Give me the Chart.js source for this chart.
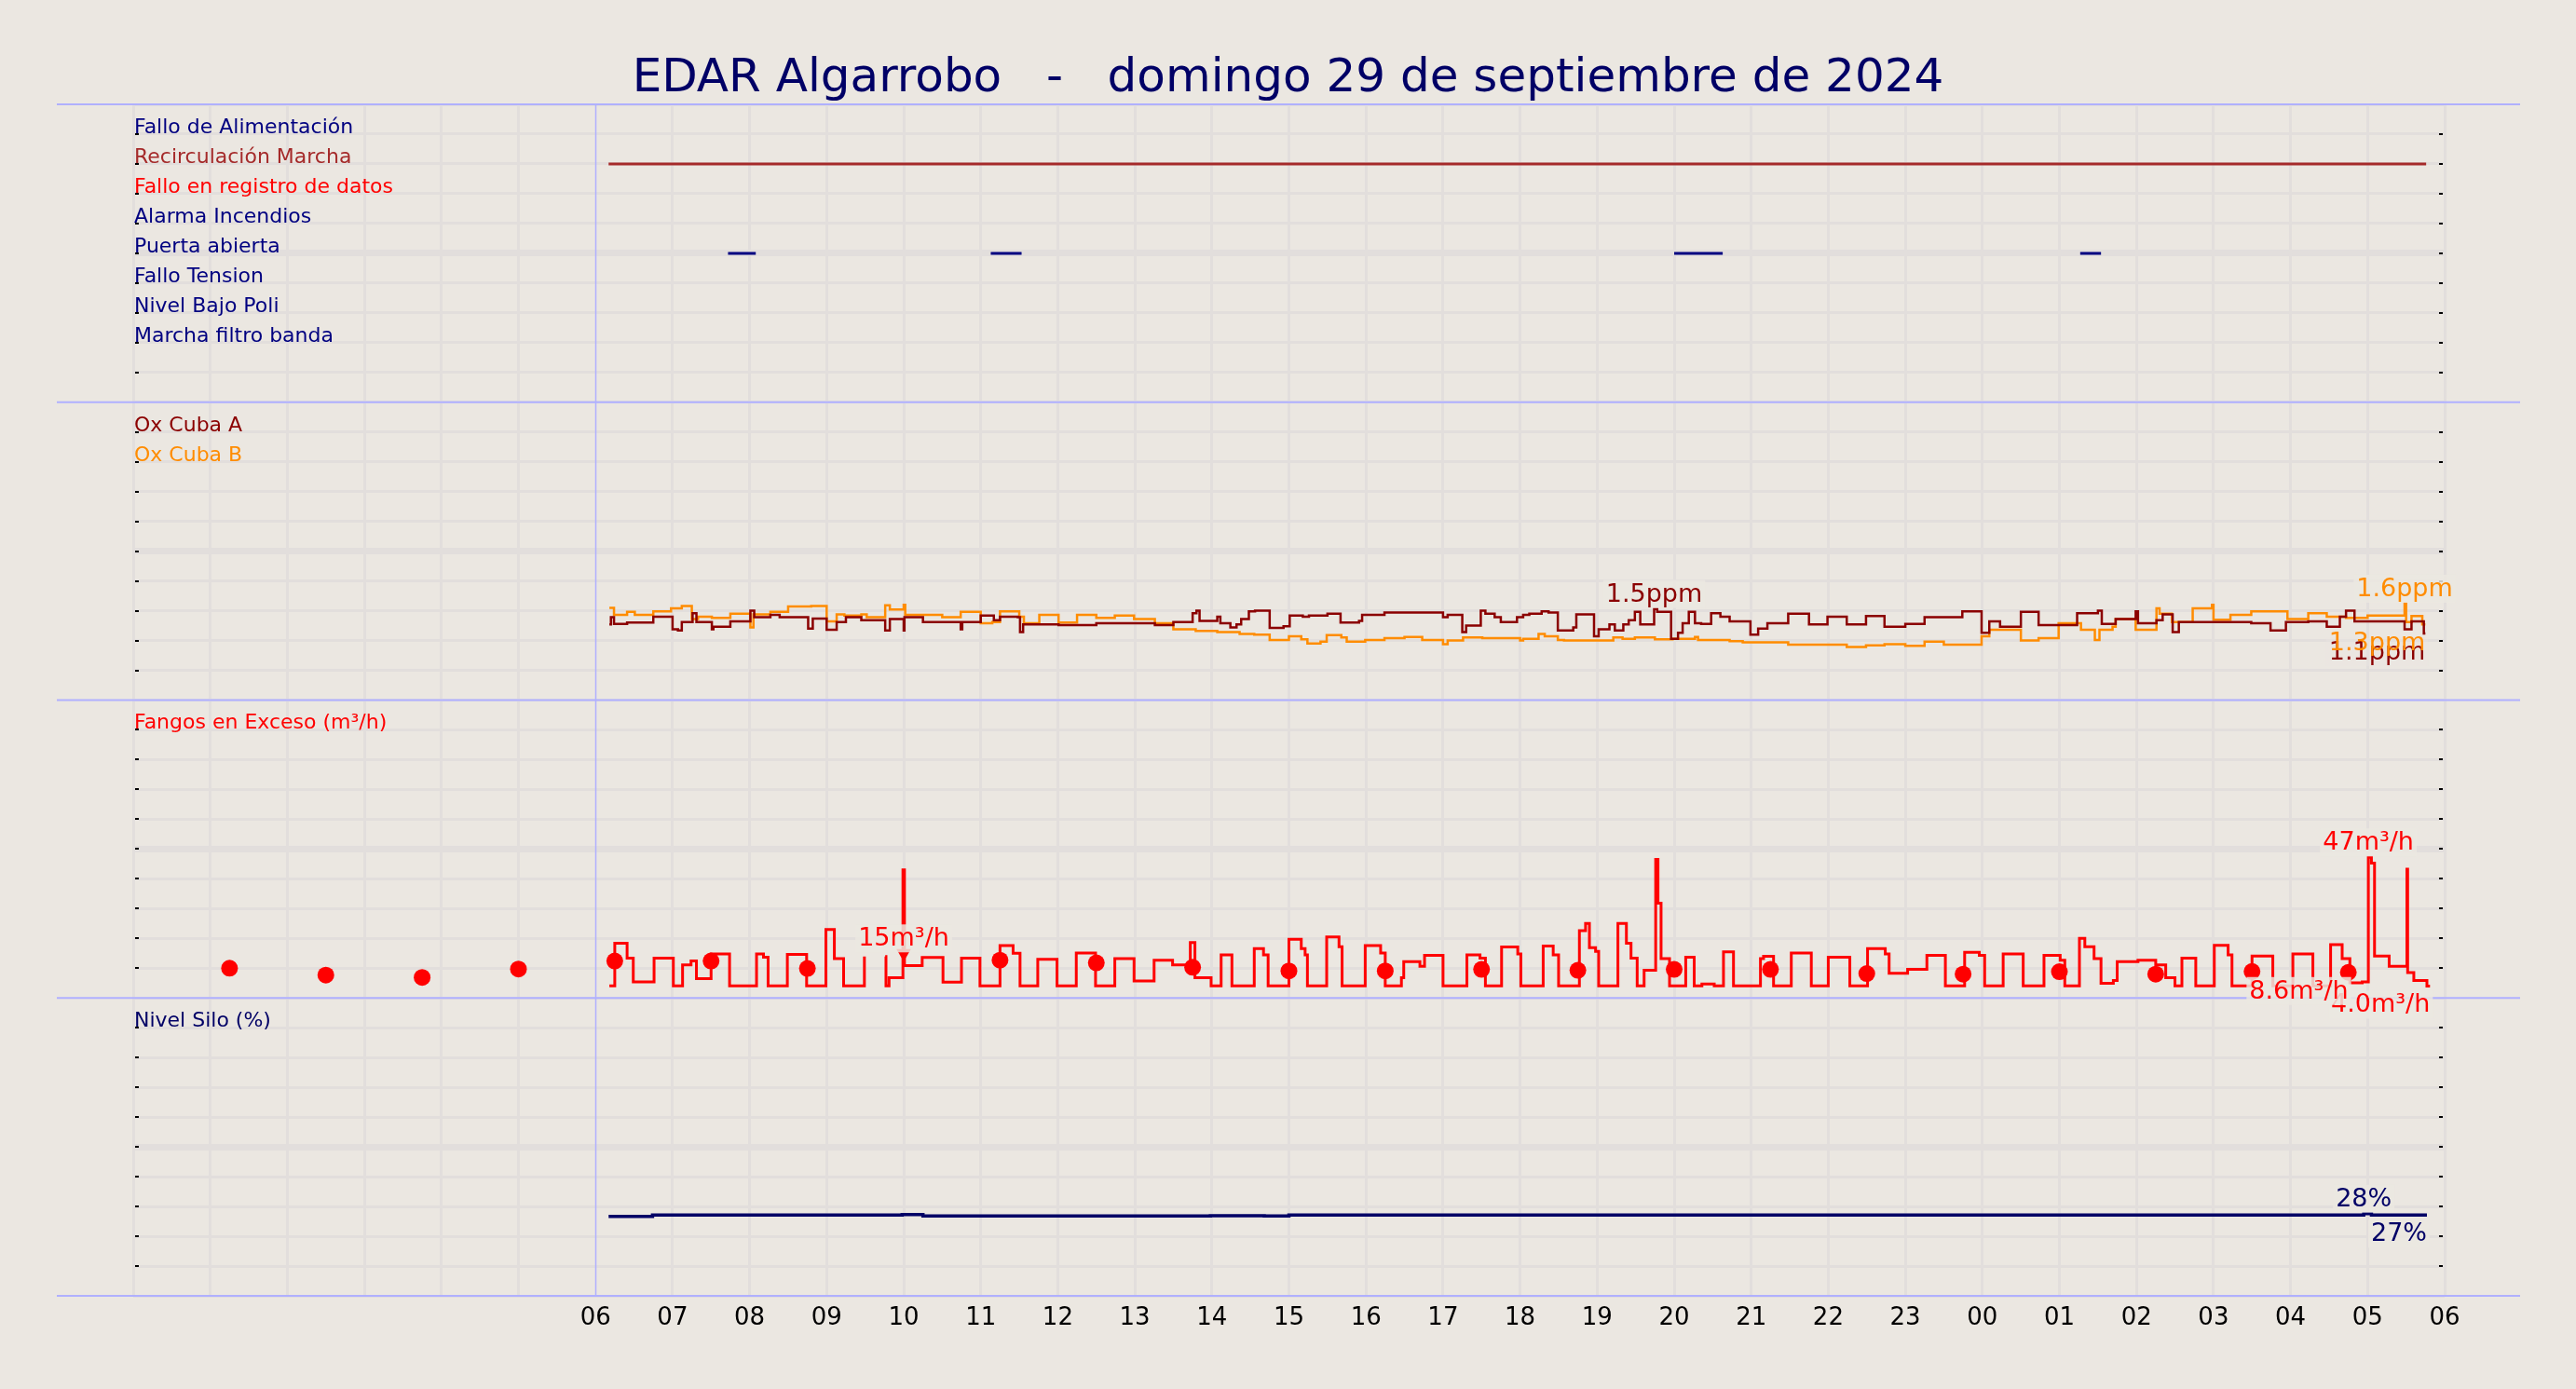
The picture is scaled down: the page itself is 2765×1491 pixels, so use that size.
<!DOCTYPE html>
<html>
<head>
<meta charset="utf-8">
<title>EDAR Algarrobo</title>
<script src="https://cdn.jsdelivr.net/npm/chart.js@4.4.1/dist/chart.umd.min.js"></script>
<style>
  html, body { margin: 0; padding: 0; background: #ebe7e1; }
  #wrap { width: 2765px; height: 1491px; position: relative; }
</style>
</head>
<body>
<div id="wrap"><canvas id="edarChart"></canvas></div>
<script>
// Cabecera
const titulo = 'EDAR Algarrobo   -   domingo 29 de septiembre de 2024';

// Eje X: horas desde las 00:00 del día 29 (etiquetas de 06 a 06)
const horaInicio = 0;
const horaFin = 30;
const primeraEtiqueta = 6;

// Panel 1: señales digitales, tramos [inicio, fin] en horas
const senales = ['Fallo de Alimentación', 'Recirculación Marcha', 'Fallo en registro de datos', 'Alarma Incendios',
  'Puerta abierta', 'Fallo Tension', 'Nivel Bajo Poli', 'Marcha filtro banda'];
const coloresSenal = ['#000080', '#a52a2a', '#ff0000', '#000080', '#000080', '#000080', '#000080', '#000080'];
const tramosSenal = [
  [],
  [[6.17, 29.76]],
  [],
  [],
  [[7.72, 8.08], [11.13, 11.53], [20.0, 20.63], [25.27, 25.54]],
  [],
  [],
  []
];

// Panel 2: oxígeno (ppm), pares [hora, valor]
const oxCubaA = [
  [6.18, 1.27], [6.20, 1.39], [6.24, 1.28], [6.41, 1.30], [6.75, 1.40], [7.00, 1.19], [7.07, 1.17],
  [7.12, 1.31], [7.26, 1.46], [7.31, 1.31], [7.51, 1.19], [7.53, 1.23], [7.75, 1.32], [8.01, 1.50],
  [8.06, 1.39], [8.27, 1.43], [8.39, 1.39], [8.76, 1.20], [8.82, 1.37], [9.00, 1.18], [9.13, 1.31],
  [9.25, 1.39], [9.45, 1.34], [9.76, 1.17], [9.82, 1.36], [10.00, 1.17], [10.01, 1.39], [10.25, 1.31],
  [10.74, 1.19], [10.76, 1.31], [11.00, 1.42], [11.17, 1.34], [11.25, 1.40], [11.48, 1.39], [11.51, 1.14],
  [11.55, 1.27], [12.01, 1.26], [12.50, 1.29], [13.26, 1.26], [13.50, 1.31], [13.75, 1.46], [13.80, 1.50],
  [13.84, 1.33], [14.07, 1.40], [14.11, 1.29], [14.24, 1.22], [14.32, 1.27], [14.38, 1.36], [14.48, 1.49],
  [14.56, 1.50], [14.75, 1.21], [14.93, 1.24], [15.01, 1.42], [15.18, 1.40], [15.26, 1.42], [15.50, 1.45],
  [15.67, 1.30], [15.91, 1.33], [15.95, 1.43], [16.24, 1.47], [17.00, 1.39], [17.06, 1.43], [17.25, 1.14],
  [17.30, 1.25], [17.49, 1.50], [17.55, 1.45], [17.67, 1.39], [17.75, 1.31], [17.96, 1.39], [18.04, 1.43],
  [18.12, 1.45], [18.28, 1.49], [18.37, 1.47], [18.49, 1.17], [18.69, 1.22], [18.73, 1.44], [18.96, 1.07],
  [19.02, 1.19], [19.16, 1.27], [19.23, 1.17], [19.34, 1.27], [19.41, 1.34], [19.49, 1.48], [19.56, 1.27],
  [19.74, 1.53], [19.78, 1.48], [19.96, 1.03], [20.05, 1.13], [20.11, 1.29], [20.19, 1.48], [20.27, 1.29],
  [20.35, 1.28], [20.48, 1.46], [20.60, 1.40], [20.72, 1.32], [20.99, 1.10], [21.09, 1.20], [21.21, 1.29],
  [21.48, 1.45], [21.75, 1.27], [21.99, 1.40], [22.24, 1.27], [22.49, 1.41], [22.73, 1.23], [23.00, 1.28],
  [23.25, 1.39], [23.74, 1.49], [23.99, 1.13], [24.09, 1.32], [24.23, 1.23], [24.50, 1.48], [24.73, 1.26],
  [25.23, 1.46], [25.50, 1.50], [25.55, 1.28], [25.73, 1.36], [25.99, 1.49], [26.02, 1.29], [26.26, 1.34],
  [26.34, 1.44], [26.47, 1.14], [26.55, 1.31], [27.49, 1.29], [27.74, 1.17], [27.94, 1.31], [28.23, 1.32],
  [28.47, 1.23], [28.64, 1.40], [28.72, 1.50], [28.83, 1.32], [29.48, 1.19], [29.57, 1.32], [29.73, 1.12],
  [29.75, 1.12]
];
const oxCubaB = [
  [6.18, 1.55], [6.24, 1.43], [6.41, 1.48], [6.51, 1.43], [6.75, 1.49], [6.98, 1.54], [7.12, 1.58],
  [7.25, 1.36], [7.33, 1.40], [7.51, 1.38], [7.75, 1.45], [8.01, 1.22], [8.05, 1.44], [8.27, 1.48],
  [8.50, 1.57], [8.80, 1.58], [9.00, 1.32], [9.13, 1.44], [9.23, 1.42], [9.45, 1.44], [9.52, 1.39],
  [9.76, 1.59], [9.82, 1.52], [10.00, 1.60], [10.02, 1.43], [10.50, 1.39], [10.74, 1.48], [11.00, 1.29],
  [11.15, 1.31], [11.25, 1.49], [11.50, 1.40], [11.56, 1.29], [11.76, 1.43], [12.01, 1.30], [12.25, 1.43],
  [12.50, 1.38], [12.74, 1.42], [12.99, 1.36], [13.26, 1.29], [13.50, 1.19], [13.79, 1.16], [14.07, 1.14],
  [14.36, 1.11], [14.55, 1.10], [14.75, 1.01], [15.00, 1.07], [15.16, 1.02], [15.24, 0.95], [15.41, 0.98],
  [15.49, 1.09], [15.68, 1.05], [15.75, 0.98], [15.99, 1.01], [16.24, 1.04], [16.50, 1.06], [16.73, 1.01],
  [17.00, 0.94], [17.06, 1.00], [17.26, 1.05], [17.51, 1.04], [18.00, 1.00], [18.04, 1.03], [18.24, 1.11],
  [18.32, 1.07], [18.49, 1.01], [18.57, 1.00], [19.21, 1.05], [19.33, 1.03], [19.49, 1.05], [19.75, 1.02],
  [19.98, 1.03], [20.27, 1.06], [20.31, 1.01], [20.72, 0.99], [20.89, 0.97], [21.48, 0.93], [22.24, 0.89],
  [22.49, 0.92], [22.73, 0.94], [23.00, 0.91], [23.25, 0.98], [23.50, 0.93], [23.99, 1.07], [24.09, 1.18],
  [24.50, 1.00], [24.73, 1.04], [24.99, 1.29], [25.28, 1.18], [25.46, 1.01], [25.52, 1.18], [25.69, 1.23],
  [25.73, 1.36], [25.99, 1.18], [26.26, 1.54], [26.30, 1.45], [26.46, 1.31], [26.73, 1.54], [26.98, 1.60],
  [27.00, 1.35], [27.22, 1.43], [27.49, 1.49], [27.96, 1.36], [28.23, 1.46], [28.47, 1.40], [28.72, 1.38],
  [29.00, 1.42], [29.48, 1.62], [29.50, 1.31], [29.57, 1.41], [29.71, 1.27], [29.75, 1.27]
];

// Panel 3: fangos en exceso (m³/h), null = hueco sin registro
const fangos = [
  [6.18, 4.1], [6.25, 18.4], [6.41, 13.4], [6.49, 5.4], [6.76, 13.4], [7.01, 4.1], [7.13, 11.1],
  [7.24, 12.4], [7.31, 6.5], [7.50, 14.8], [7.74, 4.1], [8.09, 14.8], [8.18, 13.7], [8.24, 4.1],
  [8.49, 14.6], [8.74, 4.1], [8.99, 23.0], [9.10, 13.2], [9.22, 4.1], [9.49, 13.9], [9.50, null],
  [9.76, 13.9], [9.77, 4.1], [9.81, 6.8], [9.99, 43.0], [10.01, 10.9], [10.24, 13.6], [10.51, 5.3],
  [10.75, 13.4], [10.99, 4.1], [11.25, 17.6], [11.42, 15.0], [11.51, 4.1], [11.74, 13.0], [11.99, 4.1],
  [12.24, 15.1], [12.49, 4.1], [12.74, 13.2], [12.99, 5.7], [13.25, 12.7], [13.49, 11.1], [13.72, 18.6],
  [13.78, 6.8], [13.99, 4.1], [14.12, 14.5], [14.26, 4.1], [14.55, 16.6], [14.67, 14.5], [14.73, 4.1],
  [15.00, 19.7], [15.16, 16.6], [15.21, 14.5], [15.24, 4.1], [15.49, 20.5], [15.65, 17.2], [15.69, 4.1],
  [15.99, 17.6], [16.19, 15.1], [16.25, 4.1], [16.46, 6.8], [16.49, 12.2], [16.70, 10.6], [16.76, 14.3],
  [17.00, 4.1], [17.31, 14.5], [17.48, 13.4], [17.55, 4.1], [17.76, 17.1], [17.97, 14.8], [18.01, 4.1],
  [18.30, 17.4], [18.43, 14.5], [18.50, 4.1], [18.77, 22.6], [18.85, 25.0], [18.90, 16.9], [18.98, 15.6],
  [19.02, 4.1], [19.27, 25.0], [19.38, 18.4], [19.44, 13.4], [19.52, 4.1], [19.61, 9.3], [19.76, 46.5],
  [19.79, 31.8], [19.83, 13.2], [19.94, 4.1], [20.15, 13.7], [20.26, 4.1], [20.36, 4.7], [20.52, 4.1],
  [20.64, 15.5], [20.77, 4.1], [21.12, 13.2], [21.16, 14.0], [21.29, 4.1], [21.52, 15.1], [21.78, 4.1],
  [22.00, 13.7], [22.28, 4.1], [22.51, 16.6], [22.74, 14.8], [22.79, 8.3], [23.03, 9.6], [23.28, 14.3],
  [23.52, 4.1], [23.77, 15.3], [23.96, 14.3], [24.03, 4.1], [24.27, 14.8], [24.53, 4.1], [24.80, 14.3],
  [25.01, 12.7], [25.07, 4.1], [25.26, 20.0], [25.33, 17.2], [25.45, 13.2], [25.54, 4.9], [25.70, 5.9],
  [25.75, 12.2], [26.02, 12.7], [26.25, 11.1], [26.38, 6.8], [26.50, 4.1], [26.59, 13.4], [26.77, 4.1],
  [27.01, 17.7], [27.19, 14.5], [27.24, 4.1], [27.50, 14.1], [27.77, 4.1], [28.03, 14.8], [28.29, 4.1],
  [28.52, 17.9], [28.67, 13.2], [28.77, 5.1], [28.93, 5.4], [29.01, 47.2], [29.05, 45.3], [29.09, 14.1],
  [29.28, 10.6], [29.51, 43.2], [29.52, 8.5], [29.60, 5.9], [29.77, 4.0], [29.81, 4.0]
];
// medias de fangos (puntos)
const horasMedia = [1.25, 2.5, 3.75, 5, 6.25, 7.5, 8.75, 10, 11.25, 12.5, 13.75, 15, 16.25, 17.5,
  18.75, 20, 21.25, 22.5, 23.75, 25, 26.25, 27.5, 28.75];
const fangosMedia = [10.0, 7.7, 6.9, 9.7, 12.4, 12.4, 9.9, 15.0, 12.7, 11.8, 10.3, 9.1, 9.1, 9.6,
  9.3, 9.6, 9.6, 8.2, 8.0, 8.8, 8.0, 8.9, 8.6];

// Panel 4: nivel del silo (%)
const nivelSilo = [
  [6.17, 26.7], [6.74, 27.1], [9.98, 27.3], [10.25, 26.8], [13.98, 26.9], [14.68, 26.8],
  [15.00, 27.1], [28.95, 27.6], [29.05, 27.1], [29.77, 27.1]
];

const fondo = '#ebe7e1';
const rejilla = '#e2dedc';
const azul = '#b0b0ff';
const fuente = '"DejaVu Sans", sans-serif';

function puntos(serie) {
  return serie.map(p => ({ x: p[0], y: p[1] }));
}

function tramos(lista, nivel) {
  const out = [];
  lista.forEach(t => {
    out.push({ x: t[0], y: nivel }, { x: t[1], y: nivel }, { x: t[1], y: null });
  });
  return out;
}

function indiceMax(vals) {
  let k = -1;
  vals.forEach((v, i) => { if (v !== null && (k < 0 || v > vals[k])) k = i; });
  return k;
}

function fmtCaudal(v) {
  return (v >= 10 ? v.toFixed(0) : v.toFixed(1)) + 'm³/h';
}

function escalaPanel(max, paso, peso) {
  return {
    type: 'linear',
    position: 'left',
    stack: 'paneles',
    stackWeight: 1,
    weight: peso,
    min: 0,
    max: max,
    ticks: { stepSize: paso, display: false },
    grid: { color: rejilla, lineWidth: c => c.index === 5 ? 7 : 3, drawTicks: false },
    border: { display: false },
    afterFit: s => { s.width = 0; }
  };
}

const datasets = [];

// puntos de media (primero = encima)
const maxMedia = indiceMax(fangosMedia);
datasets.push({
  label: 'Media fangos',
  data: horasMedia.map((h, i) => ({ x: h, y: fangosMedia[i] })),
  yAxisID: 'yFan',
  showLine: false,
  pointRadius: 9,
  pointStyle: fangosMedia.map((v, i) => i === maxMedia ? 'triangle' : 'circle'),
  rotation: fangosMedia.map((v, i) => i === maxMedia ? 180 : 0),
  pointBackgroundColor: '#ff0000',
  pointBorderWidth: 0
});
datasets.push({ label: 'Fangos en Exceso', data: puntos(fangos), yAxisID: 'yFan', borderColor: '#ff0000', borderWidth: 3, stepped: true, spanGaps: false, pointRadius: 0 });
datasets.push({ label: 'Ox Cuba A', data: puntos(oxCubaA), yAxisID: 'yOx', borderColor: '#8b0000', borderWidth: 2.5, stepped: true, pointRadius: 0 });
datasets.push({ label: 'Ox Cuba B', data: puntos(oxCubaB), yAxisID: 'yOx', borderColor: '#ff8c00', borderWidth: 2.5, stepped: true, pointRadius: 0 });
datasets.push({ label: 'Nivel Silo', data: puntos(nivelSilo), yAxisID: 'ySilo', borderColor: '#000066', borderWidth: 3.5, stepped: true, pointRadius: 0 });
senales.forEach((nombre, i) => {
  if (!tramosSenal[i].length) return;
  datasets.push({ label: nombre, data: tramos(tramosSenal[i], 9 - i), yAxisID: 'ySig', borderColor: coloresSenal[i], borderWidth: 3, spanGaps: false, pointRadius: 0 });
});

function rotulo(c, texto, x, y, color, alinear, arriba, opacidad) {
  c.font = '27px ' + fuente;
  const w = c.measureText(texto).width;
  const base = arriba ? y - 8 : y + 28;
  const izq = alinear === 'center' ? x - w / 2 : x - w;
  const a = opacidad === undefined ? 0.85 : opacidad;
  if (a > 0) {
    c.fillStyle = 'rgba(235, 231, 225, ' + a + ')';
    c.fillRect(izq - 3, base - 23, w + 6, 30);
  }
  c.fillStyle = color;
  c.textAlign = 'left';
  c.textBaseline = 'alphabetic';
  c.fillText(texto, izq, base);
}

function rotulosSerie(c, serie, sx, sy, color, fmt) {
  const vals = serie.map(p => p[1]);
  const k = indiceMax(vals);
  rotulo(c, fmt(vals[k]), sx.getPixelForValue(serie[k][0]), sy.getPixelForValue(vals[k]), color, 'center', true);
}

function rotuloFinal(c, serie, sx, sy, color, fmt, opacidad) {
  const u = serie[serie.length - 1];
  rotulo(c, fmt(u[1]), sx.getPixelForValue(u[0]), sy.getPixelForValue(u[1]), color, 'right', false, opacidad);
}

const decoracion = {
  id: 'decoracion',
  beforeDraw(chart) {
    const c = chart.ctx;
    c.save();
    c.fillStyle = fondo;
    c.fillRect(0, 0, chart.width, chart.height);
    c.restore();
  },
  beforeDatasetsDraw(chart) {
    // linea vertical de inicio del dia
    const c = chart.ctx;
    const area = chart.chartArea;
    const x = Math.round(chart.scales.x.getPixelForValue(primeraEtiqueta)) + 0.5;
    c.save();
    c.strokeStyle = azul;
    c.lineWidth = 1.5;
    c.beginPath();
    c.moveTo(x, area.top);
    c.lineTo(x, area.bottom);
    c.stroke();
    c.restore();
  },
  afterDatasetsDraw(chart) {
    const c = chart.ctx;
    const area = chart.chartArea;
    const sx = chart.scales.x;
    const ySig = chart.scales.ySig, yOx = chart.scales.yOx, yFan = chart.scales.yFan, ySilo = chart.scales.ySilo;
    const paneles = [ySig, yOx, yFan, ySilo];
    c.save();

    // marcas cortas de escala a ambos lados
    c.fillStyle = '#000';
    paneles.forEach(s => {
      s.ticks.forEach((t, i) => {
        if (i === 0 || i === s.ticks.length - 1) return;
        const y = Math.round(s.getPixelForTick(i));
        c.fillRect(area.left + 2, y - 1, 4, 2);
        c.fillRect(area.right - 6, y - 1, 4, 2);
      });
    });

    // separadores de paneles
    c.strokeStyle = azul;
    c.lineWidth = 2;
    paneles.map(s => s.top).concat([ySilo.bottom]).forEach(y => {
      c.beginPath();
      c.moveTo(area.left - 82, y);
      c.lineTo(area.right + 81, y);
      c.stroke();
    });

    // titulo
    c.fillStyle = '#000066';
    c.font = '50px ' + fuente;
    c.textAlign = 'center';
    c.textBaseline = 'alphabetic';
    c.fillText(titulo, chart.width / 2, 98);

    // leyendas de cada panel
    c.font = '22px ' + fuente;
    c.textAlign = 'left';
    senales.forEach((n, i) => {
      c.fillStyle = coloresSenal[i];
      c.fillText(n, area.left + 1, ySig.getPixelForValue(9 - i) - 1);
    });
    c.fillStyle = '#8b0000';
    c.fillText('Ox Cuba A', area.left + 1, yOx.getPixelForValue(4.5) - 1);
    c.fillStyle = '#ff8c00';
    c.fillText('Ox Cuba B', area.left + 1, yOx.getPixelForValue(4.0) - 1);
    c.fillStyle = '#ff0000';
    c.fillText('Fangos en Exceso (m³/h)', area.left + 1, yFan.getPixelForValue(90) - 1);
    c.fillStyle = '#000066';
    c.fillText('Nivel Silo (%)', area.left + 1, ySilo.getPixelForValue(90) - 1);

    // rotulos de maximo y ultimo valor
    const ppm = v => v.toFixed(1) + 'ppm';
    rotulosSerie(c, oxCubaA, sx, yOx, '#8b0000', ppm);
    rotulosSerie(c, oxCubaB, sx, yOx, '#ff8c00', ppm);
    rotuloFinal(c, oxCubaA, sx, yOx, '#8b0000', ppm, 0.4);
    rotuloFinal(c, oxCubaB, sx, yOx, '#ff8c00', ppm, 0);

    const lineaFangos = fangos.filter(p => p[1] !== null);
    rotulosSerie(c, lineaFangos, sx, yFan, '#ff0000', fmtCaudal);
    rotulo(c, fmtCaudal(fangosMedia[maxMedia]), sx.getPixelForValue(horasMedia[maxMedia]),
      yFan.getPixelForValue(fangosMedia[maxMedia]), '#ff0000', 'center', true);
    rotuloFinal(c, lineaFangos, sx, yFan, '#ff0000', fmtCaudal);
    const ult = fangosMedia.length - 1;
    rotulo(c, fmtCaudal(fangosMedia[ult]), sx.getPixelForValue(horasMedia[ult]),
      yFan.getPixelForValue(fangosMedia[ult]), '#ff0000', 'right', false);

    const pct = v => v.toFixed(0) + '%';
    rotulosSerie(c, nivelSilo, sx, ySilo, '#000066', pct);
    rotuloFinal(c, nivelSilo, sx, ySilo, '#000066', pct);

    c.restore();
  }
};

const ctxEdar = document.getElementById('edarChart').getContext('2d');
const edarChart = new Chart(ctxEdar, {
  type: 'line',
  data: { datasets: datasets },
  options: {
    responsive: true,
    maintainAspectRatio: false,
    animation: false,
    devicePixelRatio: 1,
    layout: { padding: { left: 143, right: 141, top: 112, bottom: 0 } },
    plugins: {
      legend: { display: false },
      tooltip: { enabled: false },
      title: { display: false }
    },
    elements: { line: { tension: 0 } },
    scales: {
      x: {
        type: 'linear',
        min: horaInicio,
        max: horaFin,
        ticks: {
          stepSize: 1,
          autoSkip: false,
          maxRotation: 0,
          color: '#000',
          font: { family: 'DejaVu Sans', size: 26 },
          padding: 9,
          callback: v => v >= primeraEtiqueta ? String(v % 24).padStart(2, '0') : ''
        },
        grid: {
          color: c => c.tick && c.tick.value === primeraEtiqueta ? 'rgba(0,0,0,0)' : rejilla,
          lineWidth: 3,
          drawTicks: false
        },
        border: { display: false },
        afterFit: s => { s.height = 100; }
      },
      ySig: escalaPanel(10, 1, 4),
      yOx: escalaPanel(5, 0.5, 3),
      yFan: escalaPanel(100, 10, 2),
      ySilo: escalaPanel(100, 10, 1)
    }
  },
  plugins: [decoracion]
});
</script>
</body>
</html>
